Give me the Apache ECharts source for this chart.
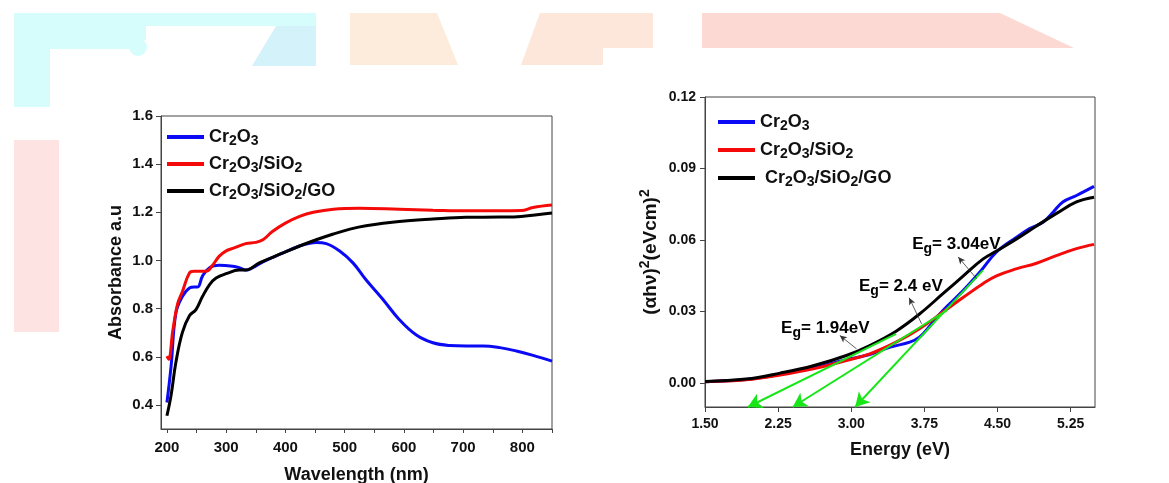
<!DOCTYPE html>
<html>
<head>
<meta charset="utf-8">
<script src="https://cdn.jsdelivr.net/npm/echarts@6/dist/echarts.min.js"></script>
<style>
  html, body { margin: 0; padding: 0; background: #fff; }
  #chart { width: 1169px; height: 483px; }
</style>
</head>
<body>
<div id="chart"></div>
<script>
// series names
var names = ['Cr2O3', 'Cr2O3/SiO2', 'Cr2O3/SiO2/GO'];
var colors = ['#0a0af5', '#f50a0a', '#000000'];

// left panel: absorbance vs wavelength
var wlBlue = [200,207,215,226,238,246,252,260,272,288,311,322,333,345,362,395,424,452,469,491,514,536,564,592,621,649,677,705,734,762,790,818,850];
var absBlue = [0.41,0.56,0.78,0.85,0.886,0.89,0.89,0.935,0.97,0.98,0.976,0.97,0.96,0.97,0.994,1.03,1.06,1.075,1.07,1.04,0.99,0.92,0.84,0.755,0.69,0.658,0.647,0.645,0.645,0.638,0.624,0.606,0.582];
var wlRed = [200,203,210,218,226,238,246,266,277,288,300,311,333,350,362,378,400,424,447,481,525,592,649,705,762,798,818,850];
var absRed = [0.603,0.59,0.71,0.82,0.87,0.948,0.955,0.955,0.98,1.017,1.04,1.05,1.07,1.075,1.086,1.12,1.155,1.183,1.2,1.213,1.217,1.213,1.209,1.206,1.206,1.207,1.22,1.23];
var wlBlack = [200,207,215,226,238,249,260,272,283,300,322,333,356,395,424,452,481,509,536,592,649,705,762,798,850];
var absBlack = [0.355,0.44,0.575,0.70,0.77,0.796,0.85,0.9,0.927,0.945,0.96,0.96,0.99,1.03,1.06,1.086,1.11,1.13,1.144,1.162,1.172,1.179,1.18,1.183,1.197];

var wlLabels = [200,300,400,500,600,700,800];
var wlTicks = [200,250,300,350,400,450,500,550,600,650,700,750,800,850];
var absLabels = [0.4,0.6,0.8,1.0,1.2,1.4,1.6];

// right panel: Tauc plot
var eBlue = [1.5,1.92,2.27,2.61,2.95,3.19,3.40,3.60,3.70,3.81,3.94,4.15,4.32,4.49,4.70,4.83,4.97,5.07,5.17,5.31,5.49];
var tBlue = [0.0006,0.0015,0.0036,0.0064,0.0098,0.012,0.0151,0.0172,0.0193,0.0242,0.0305,0.0389,0.0466,0.055,0.0613,0.0648,0.0676,0.0717,0.076,0.0787,0.0825];
var eRB = [1.5,1.92,2.27,2.61,2.95,3.19,3.46,3.70,3.94,4.15,4.35,4.49,4.70,4.90,5.11,5.31,5.49];
var tRed = [0.0006,0.0014,0.0034,0.006,0.0095,0.0123,0.0172,0.0228,0.0298,0.036,0.0417,0.045,0.048,0.0503,0.0536,0.0564,0.0582];
var tBlack = [0.0007,0.0017,0.0042,0.0073,0.0116,0.0158,0.0218,0.029,0.0375,0.045,0.052,0.0554,0.0606,0.0659,0.0713,0.076,0.078];

var eLabels = [1.5,2.25,3.0,3.75,4.5,5.25];
var tLabels = [0,0.03,0.06,0.09,0.12];

// tangent lines (upper point -> intercept)
var fitTop = [[3.46,0.0207],[3.98,0.0305],[4.35,0.0473]];
var fitEnd = [[1.94,-0.01],[2.40,-0.01],[3.04,-0.01]];
// pointer arrows (curve -> label)
var ptrFrom = [[3.054,0.0144],[3.721,0.0249],[4.286,0.0438]];
var ptrTo = [[2.883,0.020],[3.594,0.0358],[4.097,0.0529]];
// band gap labels
var egText = ['1.94eV','2.4 eV','3.04eV'];
var egX = [2.734,3.509,4.078];
var egY = [0.0232,0.0406,0.0582];

function zip(a, b) {
  var out = [];
  for (var i = 0; i < a.length; i++) out.push([a[i], b[i]]);
  return out;
}

// chem formula with subscript digits
function chem(name) {
  return name.replace(/(\D+)|(\d)/g, function (m, a, b) {
    return a ? '{n|' + a + '}' : '{s|' + b + '}';
  });
}

var font = 'Liberation Sans, Arial, sans-serif';
var richText = {
  n: { fontSize: 18, fontWeight: 'bold', fontFamily: font, color: '#111', lineHeight: 22, verticalAlign: 'middle' },
  s: { fontSize: 14, fontWeight: 'bold', fontFamily: font, color: '#111', lineHeight: 14, verticalAlign: 'bottom' }
};

function axisBase(grid, fontSize) {
  return {
    type: 'value',
    gridIndex: grid,
    nameLocation: 'middle',
    nameTextStyle: { fontSize: 18, fontWeight: 'bold', fontFamily: font, color: '#111' },
    axisLine: { show: true, onZero: false, lineStyle: { color: '#444', width: 1 } },
    axisTick: { show: true, inside: false, length: 5, lineStyle: { color: '#444' } },
    axisLabel: { fontSize: fontSize, fontWeight: 'bold', fontFamily: font, color: '#111' },
    splitLine: { show: false }
  };
}

var xLeft = axisBase(0, 15);
xLeft.min = 190; xLeft.max = 850;
xLeft.name = 'Wavelength (nm)'; xLeft.nameGap = 37;
xLeft.axisTick.customValues = wlTicks; xLeft.axisTick.length = 4;
xLeft.axisLabel.customValues = wlLabels; xLeft.axisLabel.margin = 11;

var yLeft = axisBase(0, 15);
yLeft.min = 0.3; yLeft.max = 1.6;
yLeft.name = 'Absorbance a.u'; yLeft.nameGap = 36;
yLeft.axisTick.customValues = absLabels;
yLeft.axisLabel.customValues = absLabels; yLeft.axisLabel.margin = 8;
yLeft.axisLabel.formatter = function (v) { return v.toFixed(1); };

var xRight = axisBase(1, 14);
xRight.min = 1.5; xRight.max = 5.5;
xRight.name = 'Energy (eV)'; xRight.nameGap = 34;
xRight.axisTick.customValues = eLabels;
xRight.axisLabel.customValues = eLabels; xRight.axisLabel.margin = 10;
xRight.axisLabel.formatter = function (v) { return v.toFixed(2); };

var yRight = axisBase(1, 14);
yRight.min = -0.01; yRight.max = 0.12;
yRight.name = '{n|(\u03b1h\u03bd)}{p|2}{n|(eVcm)}{p|2}'; yRight.nameGap = 41;
yRight.nameTextStyle.rich = {
  n: { fontSize: 19, fontWeight: 'bold', fontFamily: font, color: '#111', lineHeight: 26, verticalAlign: 'middle' },
  p: { fontSize: 14, fontWeight: 'bold', fontFamily: font, color: '#111', lineHeight: 14, verticalAlign: 'top' }
};
yRight.axisTick.customValues = tLabels;
yRight.axisLabel.customValues = tLabels; yRight.axisLabel.margin = 9;
yRight.axisLabel.formatter = function (v) { return v.toFixed(2); };

function curve(name, color, data, grid) {
  return {
    name: name, type: 'line', xAxisIndex: grid, yAxisIndex: grid,
    data: data, smooth: 0.4, symbol: 'none', silent: true,
    lineStyle: { color: color, width: 3 }, itemStyle: { color: color },
    z: 3
  };
}

var leftSeries = [
  curve(names[0], colors[0], zip(wlBlue, absBlue), 0),
  curve(names[1], colors[1], zip(wlRed, absRed), 0),
  curve(names[2], colors[2], zip(wlBlack, absBlack), 0)
];
var rightSeries = [
  curve(names[0], colors[0], zip(eBlue, tBlue), 1),
  curve(names[1], colors[1], zip(eRB, tRed), 1),
  curve(names[2], colors[2], zip(eRB, tBlack), 1)
];

// green tangents
rightSeries[0].markLine = {
  silent: true, symbol: ['none', 'arrow'], symbolSize: [12, 14],
  label: { show: false },
  lineStyle: { color: '#19e619', width: 2, type: 'solid' },
  data: fitTop.map(function (p, i) { return [{ coord: p }, { coord: fitEnd[i] }]; })
};
// black pointers
rightSeries[1].markLine = {
  silent: true, symbol: ['none', 'arrow'], symbolSize: [5, 7],
  label: { show: false },
  lineStyle: { color: '#333', width: 0.8, type: 'solid' },
  data: ptrFrom.map(function (p, i) { return [{ coord: p }, { coord: ptrTo[i] }]; })
};

var egSeries = {
  type: 'scatter', xAxisIndex: 1, yAxisIndex: 1, symbolSize: 0, silent: true, z: 5,
  itemStyle: { color: '#000', opacity: 1 },
  data: egText.map(function (t, i) { return [egX[i], egY[i], t]; }),
  label: {
    show: true, position: 'inside', color: '#000', opacity: 1,
    textBorderWidth: 0, textBorderColor: 'transparent',
    formatter: function (p) { return '{n|E}{s|g}{n|= ' + p.data[2] + '}'; },
    rich: {
      n: { fontSize: 17, fontWeight: 'bold', fontFamily: font, color: '#000', lineHeight: 24, verticalAlign: 'middle', textBorderWidth: 0 },
      s: { fontSize: 14, fontWeight: 'bold', fontFamily: font, color: '#000', lineHeight: 14, verticalAlign: 'bottom', textBorderWidth: 0 }
    }
  }
};

function legendAt(left, top, gap, lead) {
  return {
    left: left, top: top, orient: 'vertical', padding: 0,
    data: names, icon: 'rect', itemWidth: 37, itemHeight: 4, itemGap: gap,
    selectedMode: false,
    formatter: function (name) {
      return (lead && name === names[2] ? '{n| }' : '') + chem(name);
    },
    textStyle: { rich: richText }
  };
}

// faint watermark shapes in the background
var wm = [
  { type: 'rect', shape: { x: 14, y: 13, width: 36, height: 94 }, style: { fill: '#d6fcfc' } },
  { type: 'rect', shape: { x: 50, y: 13, width: 96, height: 27 }, style: { fill: '#d6fcfc' } },
  { type: 'rect', shape: { x: 50, y: 40, width: 90, height: 9 }, style: { fill: '#d6fcfc' } },
  { type: 'circle', shape: { cx: 138, cy: 47, r: 9 }, style: { fill: '#d6fcfc' } },
  { type: 'rect', shape: { x: 146, y: 13, width: 170, height: 13 }, style: { fill: '#d6fcfc' } },
  { type: 'polygon', shape: { points: [[276, 26], [316, 26], [316, 66], [252, 66]] }, style: { fill: '#d4f2fa' } },
  { type: 'polygon', shape: { points: [[350, 13], [437, 13], [458, 65], [350, 65]] }, style: { fill: '#fdecdb' } },
  { type: 'polygon', shape: { points: [[540, 13], [653, 13], [653, 48], [603, 48], [603, 65], [521, 65]] }, style: { fill: '#fde6da' } },
  { type: 'polygon', shape: { points: [[702, 13], [1000, 13], [1074, 48], [702, 48]] }, style: { fill: '#fdd9d3' } },
  { type: 'rect', shape: { x: 14, y: 140, width: 45, height: 192 }, style: { fill: '#fde4e2' } }
];
wm.forEach(function (g) { g.z = -10; g.silent = true; });

var myChart = echarts.init(document.getElementById('chart'), null, { renderer: 'canvas' });
myChart.setOption({
  animation: false,
  backgroundColor: '#fff',
  textStyle: { fontFamily: font },
  graphic: wm,
  grid: [
    { left: 161, top: 116, right: 617, bottom: 54, outerBoundsMode: 'none', show: true, borderColor: '#444', borderWidth: 1, backgroundColor: 'transparent' },
    { left: 705, top: 97, right: 74, bottom: 76, outerBoundsMode: 'none', show: true, borderColor: '#444', borderWidth: 1, backgroundColor: 'transparent' }
  ],
  legend: [legendAt(167, 128, 7, false), legendAt(718, 113, 8, true)],
  xAxis: [xLeft, xRight],
  yAxis: [yLeft, yRight],
  series: leftSeries.concat(rightSeries, [egSeries])
});
</script>
</body>
</html>
